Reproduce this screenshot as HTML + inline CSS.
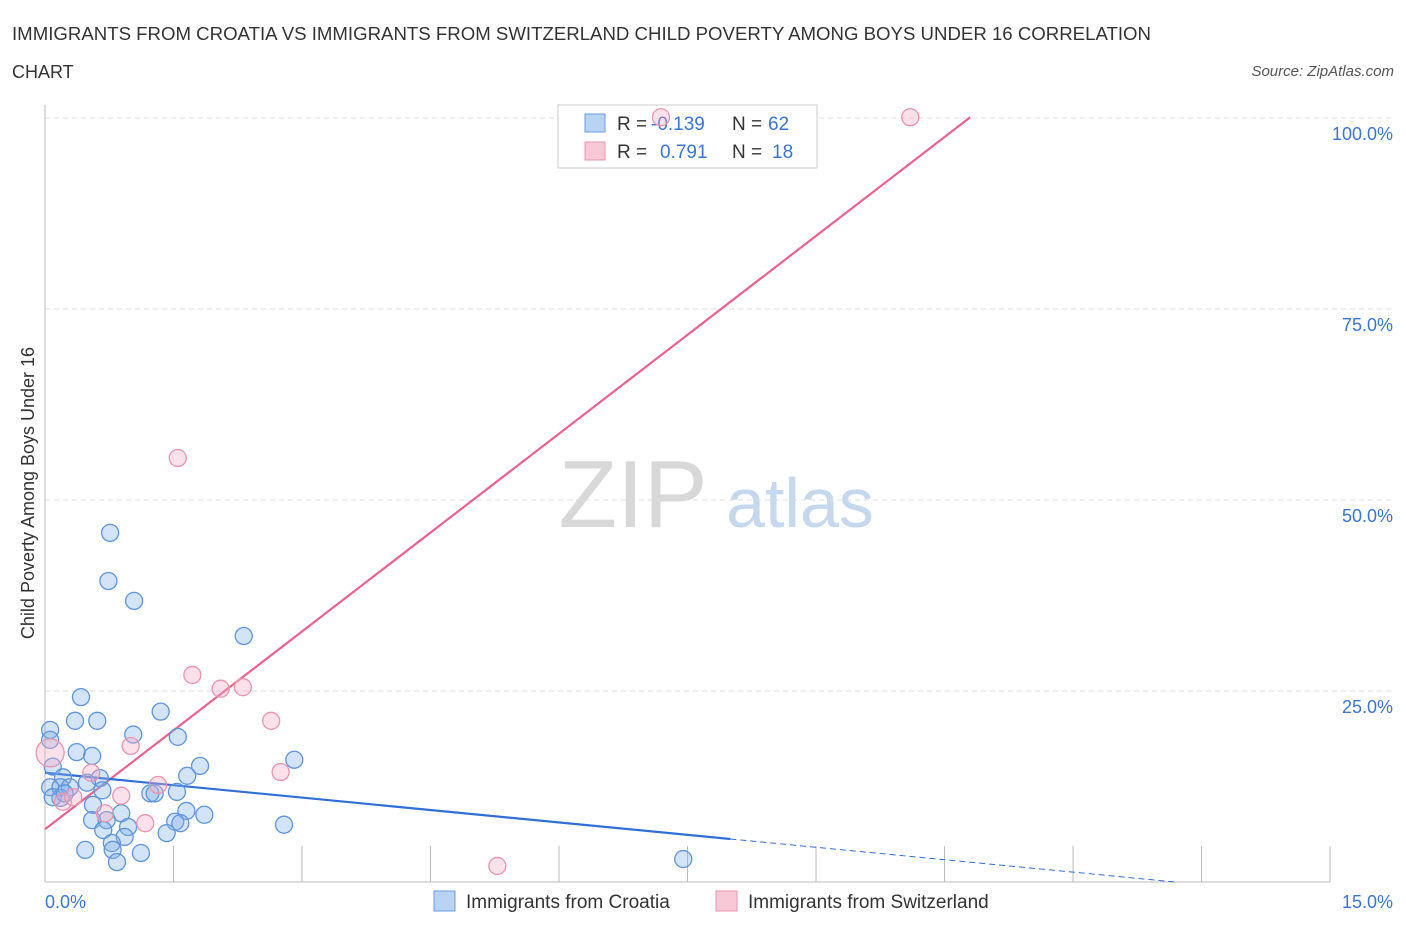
<!DOCTYPE html>
<html><head><meta charset="utf-8"><style>
body{margin:0;background:#fff;font-family:"Liberation Sans",sans-serif;}
svg text{font-family:"Liberation Sans",sans-serif;}
</style></head><body>
<svg id="chart" width="1406" height="930">
<text x="12" y="40" font-size="18" fill="#333" textLength="1139" lengthAdjust="spacingAndGlyphs">IMMIGRANTS FROM CROATIA VS IMMIGRANTS FROM SWITZERLAND CHILD POVERTY AMONG BOYS UNDER 16 CORRELATION</text>
<text x="12" y="78" font-size="18" fill="#333">CHART</text>
<text x="1394" y="76" font-size="15" fill="#555" font-style="italic" text-anchor="end">Source: ZipAtlas.com</text>
<text x="633" y="527" font-size="96" fill="#d8d8d8" font-family="Liberation Serif" text-anchor="middle">ZIP</text>
<text x="800" y="527" font-size="70" fill="#c5d8ee" text-anchor="middle">atlas</text>
<text transform="translate(34,493) rotate(-90)" font-size="18" fill="#333" text-anchor="middle">Child Poverty Among Boys Under 16</text>
<g id="grid"></g>
<g>
<rect x="558" y="105" width="259" height="63" fill="#fff" stroke="#ccc"/>
<rect x="585" y="114" width="20" height="18" fill="#b9d3f3" stroke="#6a9ee0"/>
<rect x="585" y="142" width="20" height="18" fill="#f8c8d6" stroke="#e896ad"/>
<text x="617" y="130" font-size="19" fill="#333">R =</text>
<text x="651" y="130" font-size="19" fill="#3a76d0">-0.139</text>
<text x="732" y="130" font-size="19" fill="#333">N =</text>
<text x="768" y="130" font-size="19" fill="#3a76d0">62</text>
<text x="617" y="158" font-size="19" fill="#333">R =</text>
<text x="660" y="158" font-size="19" fill="#3a76d0">0.791</text>
<text x="732" y="158" font-size="19" fill="#333">N =</text>
<text x="772" y="158" font-size="19" fill="#3a76d0">18</text>
</g>
<g id="lines"></g><g id="pts"></g>
<g>
<rect x="434" y="891" width="21" height="20" fill="#b9d3f3" stroke="#6a9ee0"/>
<text x="466" y="908" font-size="19" fill="#333">Immigrants from Croatia</text>
<rect x="716" y="891" width="21" height="20" fill="#f8c8d6" stroke="#e896ad"/>
<text x="748" y="908" font-size="19" fill="#333">Immigrants from Switzerland</text>
</g>
</svg>
<script>
const blueX=[0.42,0.35,0.61,0.06,1.03,1.35,1.55,0.37,0.55,1.81,1.66,2.91,0.09,0.21,0.64,0.06,0.18,0.29,0.49,0.67,1.23,1.28,1.54,0.18,0.09,0.56,1.65,1.86,0.55,0.72,0.89,1.52,1.58,0.68,0.97,1.42,0.93,0.78,0.79,0.47,1.12,0.84,2.79,0.23,0.76,0.74,1.04,2.32,7.45,0.06];
const blueY=[24.2,21.1,21.1,19.9,19.3,22.3,19.0,17.0,16.5,15.2,13.9,16.0,15.1,13.7,13.6,12.4,12.4,12.4,13.0,12.0,11.6,11.6,11.8,11.0,11.1,10.1,9.3,8.8,8.1,8.1,9.0,7.9,7.7,6.8,7.2,6.4,5.9,5.1,4.2,4.2,3.8,2.6,7.5,11.6,45.7,39.4,36.8,32.2,3.0,18.6];
const pinkX=[1.72,2.05,2.31,2.64,2.75,1.00,0.06,0.54,0.89,1.32,1.17,0.70,0.21,0.33,1.55,10.10,7.19,5.28];
const pinkY=[27.1,25.3,25.5,21.1,14.4,17.8,16.9,14.3,11.3,12.7,7.7,9.0,10.5,11.1,55.5,100.1,100.1,2.1];
const pinkTrend=[6.9,8.63];
const blueTrend=[14.3,-1.084];
const yTicks=[25,50,75,100];
const yTickLabels=["25.0%","50.0%","75.0%","100.0%"];
const xTicks=[0,1.5,3,4.5,6,7.5,9,10.5,12,13.5,15];
const NS="http://www.w3.org/2000/svg";
const sx=v=>45+v*85.67, sy=v=>882-v*7.64;
function mk(p,t,a){const e=document.createElementNS(NS,t);for(const k in a)e.setAttribute(k,a[k]);p.appendChild(e);return e;}
const grid=document.getElementById('grid'),lines=document.getElementById('lines'),pts=document.getElementById('pts');
yTicks.forEach((v,i)=>{
 const l=mk(grid,'line',{x1:45,x2:1392,y1:sy(v),y2:sy(v),stroke:'#ddd','stroke-dasharray':'5,4'});
 
 
 const t=mk(grid,'text',{x:1393,y:sy(v)+22,'font-size':18,fill:'#3a76d0','text-anchor':'end'});t.textContent=yTickLabels[i];
 
 
});
mk(grid,'line',{x1:45,x2:45,y1:105,y2:882,stroke:'#bbb'});
mk(grid,'line',{x1:45,x2:1330,y1:882,y2:882,stroke:'#bbb'});
xTicks.forEach(v=>{const l=mk(grid,'line',{x1:sx(v),x2:sx(v),y1:846,y2:882,stroke:'#bbb'});
 
 });
let t=mk(grid,'text',{x:45,y:908,'font-size':18,fill:'#3a76d0'});t.textContent='0.0%';


t=mk(grid,'text',{x:1393,y:908,'font-size':18,fill:'#3a76d0','text-anchor':'end'});t.textContent='15.0%';


function dot(x,y,f,s,name,r){const c=mk(pts,'circle',{cx:sx(x),cy:sy(y),r:r,fill:f,stroke:s,'stroke-width':1.3});
 
 }
blueX.forEach((x,i)=>dot(x,blueY[i],'rgba(130,175,235,0.35)','#5f95db','croatia-point',8.5));
pinkX.forEach((x,i)=>dot(x,pinkY[i],'rgba(245,170,195,0.35)','#e995ae','switzerland-point',i==6?14:8.5));
const pxEnd=(100.1-pinkTrend[0])/pinkTrend[1];
let pl=mk(lines,'line',{x1:sx(0),y1:sy(pinkTrend[0]),x2:sx(pxEnd),y2:sy(pinkTrend[0]+pinkTrend[1]*pxEnd),stroke:'#e8638e','stroke-width':2.2});


const bEnd=-blueTrend[0]/blueTrend[1];
let bl=mk(lines,'line',{x1:sx(0),y1:sy(blueTrend[0]),x2:sx(8),y2:sy(blueTrend[0]+blueTrend[1]*8),stroke:'#2f6fd6','stroke-width':2.2});


let bd=mk(lines,'line',{x1:sx(8),y1:sy(blueTrend[0]+blueTrend[1]*8),x2:sx(bEnd),y2:sy(0),stroke:'#2f6fd6','stroke-width':1,'stroke-dasharray':'6,4'});


</script>
</body></html>
